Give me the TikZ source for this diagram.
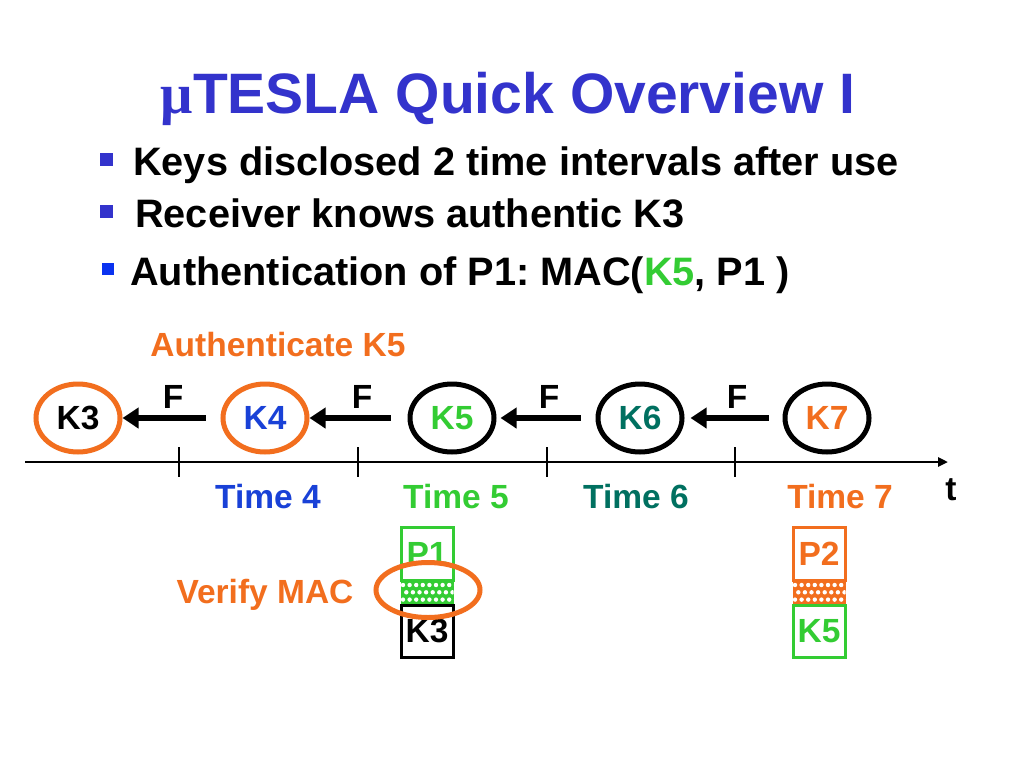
\documentclass[tikz,border=0pt]{standalone}
\usepackage{fontspec}
\setmainfont{Liberation Sans}
\newfontfamily\serifmu{Liberation Serif}
\usetikzlibrary{shapes.geometric,arrows.meta}
\definecolor{titleblue}{RGB}{51,51,204}
\definecolor{bulletblue}{RGB}{51,51,204}
\definecolor{bulletbright}{RGB}{10,50,240}
\definecolor{kblue}{RGB}{25,65,215}
\definecolor{kgreen}{RGB}{51,204,51}
\definecolor{kteal}{RGB}{0,112,96}
\definecolor{korange}{RGB}{242,110,30}
\newcommand\fsTitle{\fontsize{57}{64}\selectfont\bfseries}
\newcommand\fsBullet{\fontsize{39.7}{46}\selectfont\bfseries}
\newcommand\fsD{\fontsize{33.5}{40}\selectfont\bfseries}
\frenchspacing
\begin{document}
\begin{tikzpicture}[x=1pt,y=-1pt,
  keynode/.style={ellipse, line width=5pt, minimum width=84pt, minimum height=68pt, inner sep=0pt, font=\fsD},
  farrow/.style={line width=6pt, -{Triangle[length=16pt,width=20pt]}},
  lbl/.style={anchor=base, inner sep=0pt, font=\fsD},
  btxt/.style={anchor=base west, inner sep=0pt, font=\fsBullet},
  bsq/.style={minimum size=13pt, inner sep=0pt, fill=bulletblue},
  pbox/.style={draw, line width=3pt, minimum width=52pt, inner sep=0pt, font=\fsD},
  axis/.style={line width=2.5pt},
  verify/.style={ellipse, draw=korange, line width=5pt, minimum width=104pt, minimum height=55pt, inner sep=0pt}
]
\useasboundingbox (0,0) rectangle (1024,768);
\fill[white] (0,0) rectangle (1024,768);

% title
\node[anchor=base, inner sep=0pt, font=\fsTitle, text=titleblue] (title) at (508,113) {{\serifmu μ}TESLA Quick Overview I};

% bullets
\node[bsq] (b1) at (106.5,159.5) {};
\node[btxt] (t1) at (133,175) {Keys disclosed 2 time intervals after use};
\node[bsq] (b2) at (106.5,211.5) {};
\node[btxt] (t2) at (135,227) {Receiver knows authentic K3};
\node[bsq, fill=bulletbright, minimum size=12pt] (b3) at (107.5,269) {};
\node[btxt] (t3) at (130,285) {Authentication of P1: MAC(\textcolor{kgreen}{K5}, P1 )};

% authenticate label
\node[lbl, text=korange] (auth) at (278,356) {Authenticate K5};

% key ellipses
\node[keynode, draw=korange] (K3) at (78,418) {K3};
\node[keynode, draw=korange, text=kblue] (K4) at (265,418) {K4};
\node[keynode, draw=black, text=kgreen] (K5) at (452,418) {K5};
\node[keynode, draw=black, text=kteal] (K6) at (640,418) {K6};
\node[keynode, draw=black, text=korange] (K7) at (827,418) {K7};

% F arrows
\draw[farrow] ([xshift=-15pt]K4.west) -- (K3.east);
\draw[farrow] ([xshift=-17pt]K5.west) -- (K4.east);
\draw[farrow] ([xshift=-15pt]K6.west) -- ([xshift=4pt]K5.east);
\draw[farrow] ([xshift=-14pt]K7.west) -- ([xshift=6pt]K6.east);
\node[lbl] (F1) at (173,408) {F};
\node[lbl] (F2) at (362,408) {F};
\node[lbl] (F3) at (549,408) {F};
\node[lbl] (F4) at (737,408) {F};

% time axis
\coordinate (ta) at (25,462);
\coordinate (tb) at (948,462);
\draw[axis, -{Triangle[length=10pt,width=9pt]}] (ta) -- (tb);
\foreach \x in {179,358,547,735}{
  \draw[axis] (\x,447) -- (\x,477);
}
\node[lbl] (tl) at (951,500) {t};
\node[lbl, text=kblue] (T4) at (268,508) {Time 4};
\node[lbl, text=kgreen] (T5) at (456,508) {Time 5};
\node[lbl, text=kteal] (T6) at (636,508) {Time 6};
\node[lbl, text=korange] (T7) at (840,508) {Time 7};

% packet 1
\node[pbox, draw=kgreen, text=kgreen, minimum height=53pt] (P1) at (427,553.5) {P1};
\node[draw=kgreen, fill=kgreen, line width=1pt, minimum width=52pt, minimum height=25pt, inner sep=0pt] (H1) at (427,592.5) {};
\begin{scope}
  \clip (H1.south west) rectangle (H1.north east);
  \foreach \i in {0,...,8}{
    \foreach \j in {0,1,2}{
      \pgfmathsetmacro{\xx}{403+\i*6.6+mod(\j,2)*3.3}
      \pgfmathsetmacro{\yy}{585+\j*7.3}
      \fill[white] (\xx,\yy) circle (2.2pt);
    }
  }
\end{scope}
\node[pbox, draw=black, minimum height=52pt] (K3p) at (427,631) {K3};
\node[verify] (V) at (428,590) {};
\node[lbl, text=korange] (vm) at (265,603) {Verify MAC};

% packet 2
\node[pbox, draw=korange, text=korange, minimum height=53pt] (P2) at (819,553.5) {P2};
\node[draw=korange, fill=korange, line width=1pt, minimum width=52pt, minimum height=25pt, inner sep=0pt] (H2) at (819,592.5) {};
\begin{scope}
  \clip (H2.south west) rectangle (H2.north east);
  \foreach \i in {0,...,8}{
    \foreach \j in {0,1,2}{
      \pgfmathsetmacro{\xx}{795+\i*6.6+mod(\j,2)*3.3}
      \pgfmathsetmacro{\yy}{585+\j*7.3}
      \fill[white] (\xx,\yy) circle (2.2pt);
    }
  }
\end{scope}
\node[pbox, draw=kgreen, text=kgreen, minimum height=52pt] (K5p) at (819,631) {K5};
\end{tikzpicture}
\end{document}
